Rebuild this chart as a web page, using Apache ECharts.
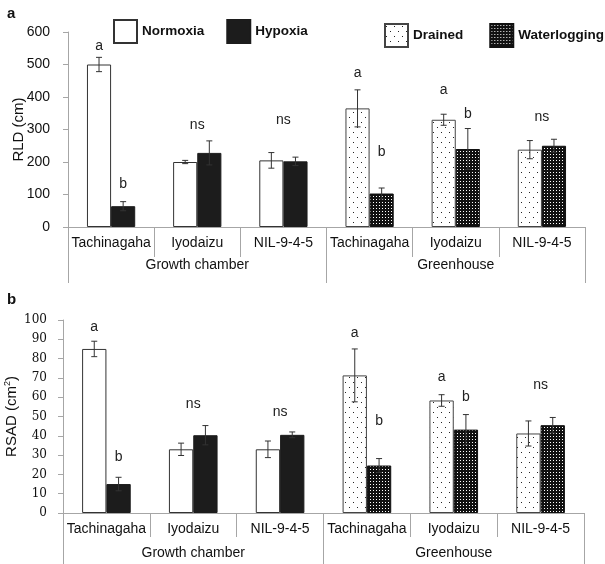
<!DOCTYPE html>
<html><head><meta charset="utf-8">
<script src="https://cdn.jsdelivr.net/npm/echarts@6/dist/echarts.min.js"></script>
<style>html,body{margin:0;padding:0;background:#fff}#c{width:605px;height:564px}</style>
</head><body><div id="c"></div>
<script>
// ---------- data ----------
const varieties = ['Tachinagaha', 'Iyodaizu', 'NIL-9-4-5'];
const categories = varieties.concat(varieties);
const environments = ['Growth chamber', 'Greenhouse'];
const treatmentsChamber = ['Normoxia', 'Hypoxia'];
const treatmentsGreenhouse = ['Drained', 'Waterlogging'];

// Panel a: RLD (cm)
const rldNormoxia = [500, 200, 205];
const rldNormoxiaErr = [22, 5, 24];
const rldHypoxia = [64, 228, 202];
const rldHypoxiaErr = [14, 37, 13];
const rldDrained = [365, 330, 238];
const rldDrainedErr = [57, 17, 28];
const rldWaterlogging = [103, 240, 250];
const rldWaterloggingErr = [17, 63, 20];

// Panel b: RSAD (cm2)
const rsadNormoxia = [85, 33, 33];
const rsadNormoxiaErr = [4, 3.2, 4.3];
const rsadHypoxia = [15, 40.3, 40.5];
const rsadHypoxiaErr = [3.5, 5, 1.5];
const rsadDrained = [71.3, 58.3, 41.2];
const rsadDrainedErr = [13.7, 3, 6.5];
const rsadWaterlogging = [24.6, 43.2, 45.5];
const rsadWaterloggingErr = [3.6, 7.8, 4];

// significance letters: text, category index, bar (-1 left, 1 right, 0 centre), anchor value
const letterText = ['a', 'b', 'ns', 'ns', 'a', 'b', 'a', 'b', 'ns'];
const letterCat = [0, 0, 1, 2, 3, 3, 4, 4, 5];
const letterBar = [-1, 1, 0, 0, -1, 1, -1, 1, 0];
const rldLetterValue = [558, 133, 314, 329, 474, 231, 421, 348, 339];
const rsadLetterValue = [96.5, 29, 56.4, 52.4, 93.4, 47.6, 70.6, 60.2, 66.5];

const rldTicks = {min: 0, max: 600, interval: 100};
const rsadTicks = {min: 0, max: 100, interval: 10};

// ---------- styles ----------
const GAP = 0.44;
const SANS = 'Liberation Sans, Arial, sans-serif';
const SERIF = 'DejaVu Serif, serif';
const AXIS_GRAY = '#a6a6a6';

function makePattern(bg, fg, w, h, dots) {
  const c = document.createElement('canvas');
  c.width = w; c.height = h;
  const ctx = c.getContext('2d');
  ctx.fillStyle = bg; ctx.fillRect(0, 0, w, h);
  ctx.fillStyle = fg;
  dots.forEach(d => ctx.fillRect(d[0], d[1], 1, 1));
  return c;
}
const drainedFill = {image: makePattern('#ffffff', '#222222', 8, 10, [[1, 2], [5, 7]]), repeat: 'repeat'};
const waterFill = {image: makePattern('#111111', '#ffffff', 3, 3, [[1, 1]]), repeat: 'repeat'};

const styles = {
  Normoxia: {color: '#ffffff', borderColor: '#333333', borderWidth: 1},
  Hypoxia: {color: '#1c1c1c', borderColor: '#1c1c1c', borderWidth: 1},
  Drained: {color: drainedFill, borderColor: '#444444', borderWidth: 1},
  Waterlogging: {color: waterFill, borderColor: '#111111', borderWidth: 1}
};

const dash = ['-', '-', '-'];

function barSeries(g, N, H, D, W) {
  const mk = (name, stack, data) => ({
    name, type: 'bar', xAxisIndex: g * 2, yAxisIndex: g, stack: stack + g,
    data, barCategoryGap: (GAP * 100) + '%', barGap: '0%',
    itemStyle: styles[name], emphasis: {disabled: true}, silent: true
  });
  return [
    mk('Normoxia', 'L', N.concat(dash)),
    mk('Hypoxia', 'R', H.concat(dash)),
    mk('Drained', 'L', dash.concat(D)),
    mk('Waterlogging', 'R', dash.concat(W))
  ];
}

function errSeries(g, N, Ne, H, He, D, De, W, We) {
  const data = [];
  for (let i = 0; i < 3; i++) {
    data.push([i, N[i], Ne[i], -1]);
    data.push([i, H[i], He[i], 1]);
    data.push([i + 3, D[i], De[i], -1]);
    data.push([i + 3, W[i], We[i], 1]);
  }
  return {
    type: 'custom', xAxisIndex: g * 2, yAxisIndex: g, silent: true, z: 5,
    data,
    renderItem: function (params, api) {
      const x = api.value(0), v = api.value(1), e = api.value(2), slot = api.value(3);
      const bw = api.size([1, 0])[0] * (1 - GAP) / 2;
      const cx = api.coord([x, v])[0] + slot * bw / 2;
      const top = api.coord([x, v + e])[1];
      const bot = api.coord([x, v - e])[1];
      const cap = 3;
      const st = {stroke: '#333', lineWidth: 1};
      return {type: 'group', children: [
        {type: 'line', shape: {x1: cx, y1: top, x2: cx, y2: bot}, style: st},
        {type: 'line', shape: {x1: cx - cap, y1: top, x2: cx + cap, y2: top}, style: st},
        {type: 'line', shape: {x1: cx - cap, y1: bot, x2: cx + cap, y2: bot}, style: st}
      ]};
    }
  };
}

function letterSeries(g, values) {
  const data = letterText.map((t, i) => [letterCat[i], values[i], letterBar[i]]);
  return {
    type: 'custom', xAxisIndex: g * 2, yAxisIndex: g, silent: true, z: 6,
    data,
    renderItem: function (params, api) {
      const x = api.value(0), v = api.value(1), slot = api.value(2);
      const bw = api.size([1, 0])[0] * (1 - GAP) / 2;
      const p = api.coord([x, v]);
      return {type: 'text', x: p[0] + slot * bw / 2, y: p[1],
        style: {text: letterText[params.dataIndex], fill: '#222', font: '14px ' + SANS,
          align: 'center', verticalAlign: 'middle'}};
    }
  };
}

function xAxes(g, innerLen, outerLen, labelMargin2) {
  return [
    {type: 'category', gridIndex: g, data: categories, position: 'bottom',
      axisLine: {lineStyle: {color: AXIS_GRAY}},
      axisTick: {show: true, interval: 0, length: innerLen, lineStyle: {color: AXIS_GRAY}},
      axisLabel: {interval: 0, margin: 9, color: '#111', fontSize: 14, fontFamily: SANS}},
    {type: 'category', gridIndex: g, data: environments, position: 'bottom',
      axisLine: {show: false},
      axisTick: {show: true, interval: 0, length: outerLen, lineStyle: {color: AXIS_GRAY}},
      axisLabel: {interval: 0, margin: labelMargin2, color: '#111', fontSize: 14, fontFamily: SANS}}
  ];
}

const legendText = {fontSize: 13.5, fontWeight: 'bold', color: '#111', fontFamily: SANS};

const option = {
  backgroundColor: '#fff',
  animation: false,
  title: [
    {text: 'a', left: 2, top: 1, textStyle: {fontSize: 15, fontWeight: 'bold', color: '#111', fontFamily: SANS}},
    {text: 'b', left: 2, top: 287, textStyle: {fontSize: 15, fontWeight: 'bold', color: '#111', fontFamily: SANS}}
  ],
  legend: [
    {data: treatmentsChamber, left: 113, top: 19, padding: 0, width: 300, itemWidth: 23, itemHeight: 23, itemGap: 22,
      icon: 'rect', selectedMode: false, textStyle: legendText},
    {data: treatmentsGreenhouse, left: 384, top: 23, padding: 0, width: 300, itemWidth: 23, itemHeight: 23, itemGap: 26,
      icon: 'rect', selectedMode: false, textStyle: legendText}
  ],
  grid: [
    {left: 68, right: 20, top: 32, height: 195, outerBoundsMode: 'none', containLabel: false},
    {left: 63, right: 21, top: 320, height: 193, outerBoundsMode: 'none', containLabel: false}
  ],
  xAxis: xAxes(0, 30, 56, 31).concat(xAxes(1, 24, 52, 33)),
  yAxis: [
    {type: 'value', gridIndex: 0, min: rldTicks.min, max: rldTicks.max, interval: rldTicks.interval,
      axisLine: {show: true, lineStyle: {color: AXIS_GRAY}},
      axisTick: {show: true, length: 5, lineStyle: {color: AXIS_GRAY}},
      splitLine: {show: false},
      axisLabel: {margin: 18, fontSize: 14, color: '#111', fontFamily: SANS},
      name: 'RLD (cm)', nameLocation: 'middle', nameGap: 42, nameMoveOverlap: false,
      nameTextStyle: {fontSize: 15, color: '#111', fontFamily: SANS}},
    {type: 'value', gridIndex: 1, min: rsadTicks.min, max: rsadTicks.max, interval: rsadTicks.interval,
      axisLine: {show: true, lineStyle: {color: AXIS_GRAY}},
      axisTick: {show: true, length: 5, lineStyle: {color: AXIS_GRAY}},
      splitLine: {show: false},
      axisLabel: {margin: 16, fontSize: 12, color: '#111', fontFamily: SERIF},
      name: 'RSAD (cm{sup|2})', nameLocation: 'middle', nameGap: 43, nameMoveOverlap: false,
      nameTextStyle: {fontSize: 15, color: '#111', fontFamily: SANS,
        rich: {sup: {fontSize: 9, verticalAlign: 'top', color: '#111', fontFamily: SANS, padding: [0, 0, 8, 0]}}}}
  ],
  series: [].concat(
    barSeries(0, rldNormoxia, rldHypoxia, rldDrained, rldWaterlogging),
    barSeries(1, rsadNormoxia, rsadHypoxia, rsadDrained, rsadWaterlogging),
    [errSeries(0, rldNormoxia, rldNormoxiaErr, rldHypoxia, rldHypoxiaErr, rldDrained, rldDrainedErr, rldWaterlogging, rldWaterloggingErr),
     errSeries(1, rsadNormoxia, rsadNormoxiaErr, rsadHypoxia, rsadHypoxiaErr, rsadDrained, rsadDrainedErr, rsadWaterlogging, rsadWaterloggingErr),
     letterSeries(0, rldLetterValue),
     letterSeries(1, rsadLetterValue)]
  )
};

const chart = echarts.init(document.getElementById('c'), null, {renderer: 'canvas'});
chart.setOption(option);
</script>
</body></html>
